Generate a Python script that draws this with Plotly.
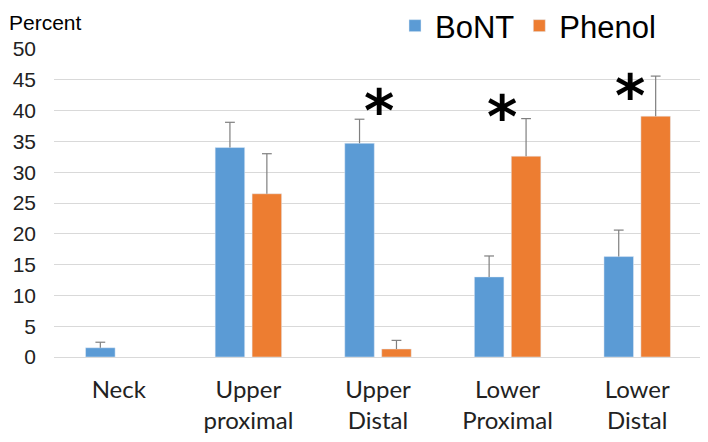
import plotly.graph_objects as go

categories = ["Neck", "Upper<br>proximal", "Upper<br>Distal", "Lower<br>Proximal", "Lower<br>Distal"]
bont_values = [1.5, 34.0, 34.7, 13.0, 16.3]
bont_errors = [0.9, 4.1, 3.9, 3.4, 4.3]
phenol_values = [None, 26.5, 1.3, 32.6, 39.1]
phenol_errors = [None, 6.5, 1.4, 6.1, 6.5]
star_categories = ["Upper<br>Distal", "Lower<br>Proximal", "Lower<br>Distal"]
star_y = [39.95, 38.9, 42.4]
star_xshift = [1, -6, -7]

BLUE = "#5B9BD5"
ORANGE = "#ED7D31"
ERR = "#7F7F7F"

# page body has an 8px default margin; figure is sized to fill the rest
W, H, OFF = 700, 434, 8


def tops(vals, errs):
    return [None if v is None else v + e for v, e in zip(vals, errs)]


def minus(vals):
    return [None if v is None else 0 for v in vals]


fig = go.Figure()
for name, vals, errs, col in [("BoNT", bont_values, bont_errors, BLUE),
                              ("Phenol", phenol_values, phenol_errors, ORANGE)]:
    fig.add_trace(go.Bar(
        name=name, x=categories, y=vals, marker_color=col, offsetgroup=name,
        error_y=dict(type="data", array=errs, arrayminus=minus(vals), symmetric=False,
                     color=ERR, thickness=1.2, width=0),
    ))
for name, vals, errs in [("BoNT", bont_values, bont_errors),
                         ("Phenol", phenol_values, phenol_errors)]:
    fig.add_trace(go.Scatter(
        x=categories, y=tops(vals, errs), mode="markers", showlegend=False,
        offsetgroup=name, hoverinfo="skip",
        marker=dict(symbol="line-ew", size=7, color=ERR, line=dict(width=1.2, color=ERR)),
    ))

for c, yv, xs in zip(star_categories, star_y, star_xshift):
    fig.add_annotation(x=c, y=yv, text="<b>*</b>", showarrow=False, xshift=xs,
                       font=dict(family="DejaVu Sans", size=58, color="#000000"),
                       yanchor="middle", xanchor="center")

fig.add_annotation(x=0, xref="paper", xanchor="left", xshift=-47,
                   y=1, yref="paper", yanchor="middle", yshift=27,
                   text="Percent", showarrow=False,
                   font=dict(family="Liberation Sans", size=21, color="#000000"))

fig.update_layout(
    width=W, height=H,
    margin=dict(l=54 - OFF, r=6, t=49 - OFF, b=85, autoexpand=False),
    paper_bgcolor="white", plot_bgcolor="white",
    barmode="group", bargap=0.43, bargroupgap=0.2,
    scattermode="group", scattergap=0.43,
    showlegend=True,
    legend=dict(orientation="h", xref="container", yref="container",
                x=(395 - OFF) / W, xanchor="left", y=1 - (26 - OFF) / H, yanchor="middle",
                font=dict(family="Liberation Sans", size=31, color="#000000"),
                bgcolor="rgba(0,0,0,0)"),
    xaxis=dict(tickfont=dict(family="Lato", size=24, color="#222222"),
               showline=False, showgrid=False, ticks="", automargin=False,
               ticklabelstandoff=16),
    yaxis=dict(range=[0, 50], dtick=5, showgrid=True, gridcolor="#D9D9D9", gridwidth=1,
               zeroline=True, zerolinecolor="#D9D9D9", zerolinewidth=1,
               tickfont=dict(family="Liberation Sans", size=21, color="#222222"),
               ticks="", ticklabelstandoff=17, automargin=False),
)

fig.write_html("out.html")
